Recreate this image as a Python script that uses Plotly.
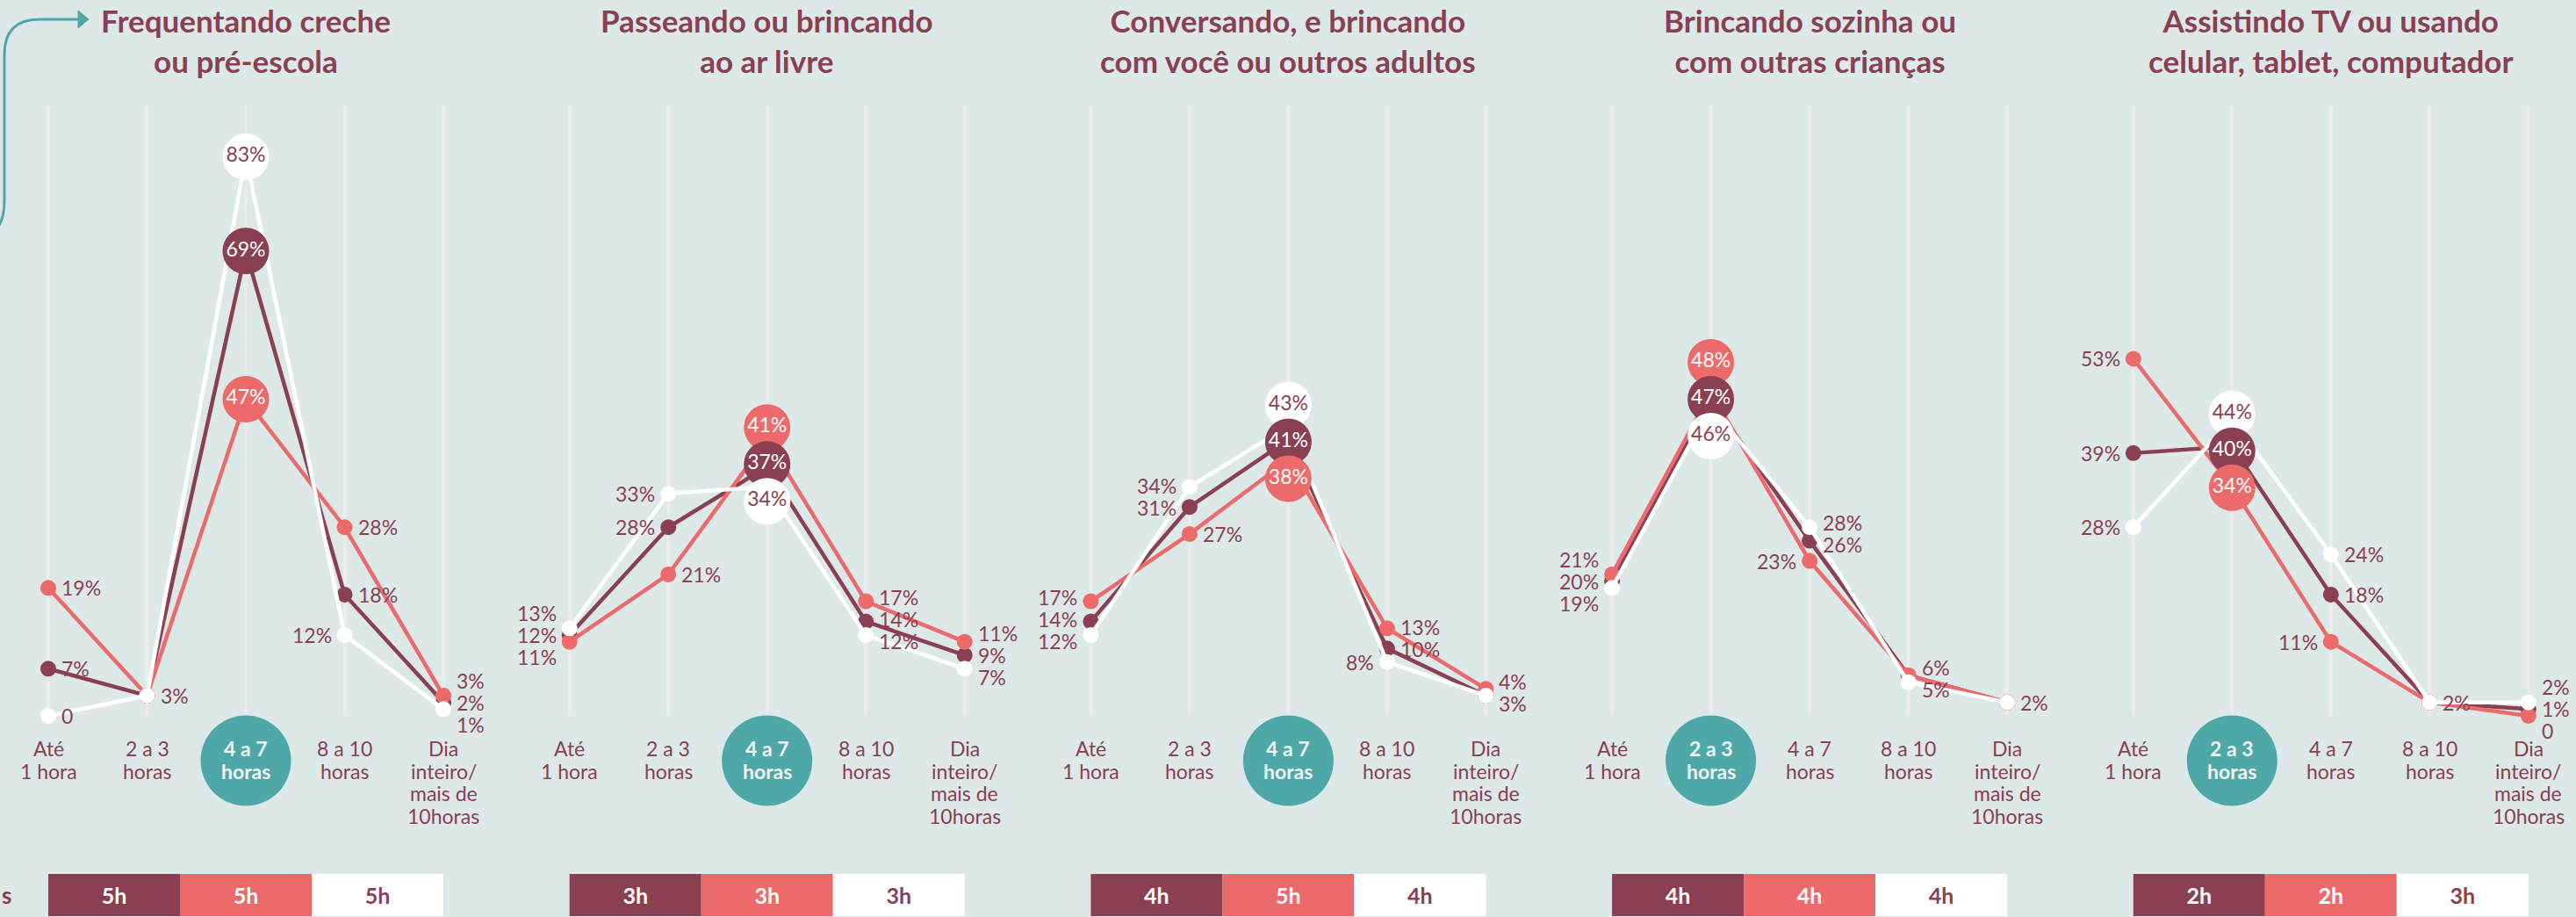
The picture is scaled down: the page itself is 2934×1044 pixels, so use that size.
import plotly.graph_objects as go

# ---------------- data ----------------
categories = ["Até<br>1 hora", "2 a 3<br>horas", "4 a 7<br>horas", "8 a 10<br>horas",
              "Dia<br>inteiro/<br>mais de<br>10horas"]
titles = ["Frequentando creche<br>ou pré-escola",
          "Passeando ou brincando<br>ao ar livre",
          "Conversando, e brincando<br>com você ou outros adultos",
          "Brincando sozinha ou<br>com outras crianças",
          "Assistindo TV ou usando<br>celular, tablet, computador"]

maroon_vals = [[7, 3, 69, 18, 2], [12, 28, 37, 14, 9], [14, 31, 41, 10, 3], [20, 47, 26, 6, 2], [39, 40, 18, 2, 1]]
coral_vals = [[19, 3, 47, 28, 3], [11, 21, 41, 17, 11], [17, 27, 38, 13, 4], [21, 48, 23, 6, 2], [53, 34, 11, 2, 0]]
white_vals = [[0, 3, 83, 12, 1], [13, 33, 34, 12, 7], [12, 34, 43, 8, 3], [19, 46, 28, 5, 2], [28, 44, 24, 2, 2]]

maroon_avg = ["5h", "3h", "4h", "4h", "2h"]
coral_avg = ["5h", "3h", "5h", "4h", "2h"]
white_avg = ["5h", "3h", "4h", "4h", "3h"]

# ---------------- styles / layout config ----------------
W, H = 2934, 1044
BG = "#dce9e8"
MAROON = "#8a3f53"
CORAL = "#ec6a6a"
WHITE = "#ffffff"
TEAL = "#4fa8a8"
GRID = "#ebebeb"
FONT = "Lato"

label_sides = {
    "maroon": ["RRCRR", "LLCRR", "LLCRR", "LCRRR", "LCRRR"],
    "coral": ["RRCRR", "LRCRR", "LRCRR", "LCLRR", "LCLRR"],
    "white": ["RRCLR", "LLCRR", "LLCLR", "LCRRR", "LCRRR"],
}

Y0 = 815.0        # pixel of value 0
PXU = 7.67        # pixels per percentage point
X0 = 55.0         # pixel of first category of first panel
PANEL_STEP = 593.7
CAT_STEP = 112.5
PANEL_W = 558.0
CAT_TOP = 852.0   # pixel centre of the first line of category labels
CAT_LINE = 25.5   # pixel spacing of category label lines


def pv(px):
    """pixel row -> y value"""
    return (Y0 - px) / PXU


def repel(items, min_gap):
    items = sorted(items, key=lambda t: t[1])
    pos = [t[1] for t in items]
    for _ in range(200):
        moved = False
        for i in range(len(pos) - 1):
            gap = pos[i + 1] - pos[i]
            if gap < min_gap - 1e-6:
                d = (min_gap - gap) / 2
                pos[i] -= d
                pos[i + 1] += d
                moved = True
        if not moved:
            break
    return {items[i][0]: pos[i] for i in range(len(items))}


series = [
    ("maroon", MAROON, maroon_vals, maroon_avg, WHITE),
    ("coral", CORAL, coral_vals, coral_avg, WHITE),
    ("white", WHITE, white_vals, white_avg, MAROON),
]

fig = go.Figure()
annotations = []
shapes = []
layout_axes = {}

layout_axes["yaxis"] = dict(domain=[0, 1], range=[pv(H), pv(0)], visible=False, fixedrange=True)

for p in range(5):
    xname = "x" if p == 0 else f"x{p+1}"
    axkey = "xaxis" if p == 0 else f"xaxis{p+1}"
    left_px = PANEL_STEP * p
    right_px = min(left_px + PANEL_W, W)
    first_cat_px = X0 + PANEL_STEP * p
    xr = [(left_px - first_cat_px) / CAT_STEP, (right_px - first_cat_px) / CAT_STEP]
    layout_axes[axkey] = dict(domain=[left_px / W, right_px / W], range=xr, visible=False,
                              anchor="y", fixedrange=True)

    mvals = maroon_vals[p]
    hi = mvals.index(max(mvals))
    xs = list(range(len(categories)))

    # gridlines
    for k in xs:
        shapes.append(dict(type="line", xref=xname, yref="y", x0=k, x1=k, y0=0, y1=pv(120),
                           line=dict(color=GRID, width=4), layer="below"))

    # teal highlight circle
    fig.add_trace(go.Scatter(x=[hi], y=[pv(866)], mode="markers", xaxis=xname, yaxis="y",
                             marker=dict(size=103, color=TEAL, opacity=1, line=dict(width=0)),
                             hoverinfo="skip", showlegend=False))

    # category labels (one annotation per line for tight spacing)
    for k, c in enumerate(categories):
        for li, line in enumerate(c.split("<br>")):
            if k == hi:
                txt = f"<b>{line}</b>"
                col = "#eef5f5"
            else:
                txt = line
                col = MAROON
            annotations.append(dict(x=k, y=pv(CAT_TOP + li * CAT_LINE), xref=xname, yref="y", text=txt,
                                    showarrow=False, xanchor="center", yanchor="middle",
                                    font=dict(family=FONT, size=23, color=col)))

    # title
    annotations.append(dict(x=2, y=pv(46), xref=xname, yref="y", text=f"<b>{titles[p]}</b>",
                            showarrow=False, xanchor="center", yanchor="middle", align="center",
                            font=dict(family=FONT, size=35, color=MAROON)))

    # lines with small markers
    for name, col, vals, avg, tcol in series:
        v = vals[p]
        sizes = [0 if k == hi else 18 for k in xs]
        fig.add_trace(go.Scatter(x=xs, y=v, mode="lines+markers", xaxis=xname, yaxis="y",
                                 line=dict(color=col, width=4.5),
                                 marker=dict(size=sizes, color=col, opacity=1, line=dict(width=0)),
                                 hoverinfo="skip", showlegend=False))

    # small labels (repelled per side per category)
    for k in xs:
        if k == hi:
            continue
        for side in ("L", "R"):
            items = []
            seen = set()
            for name, col, vals, avg, tcol in series:
                if label_sides[name][p][k] != side:
                    continue
                val = vals[p][k]
                if val in seen:
                    continue
                seen.add(val)
                items.append([val, float(val)])
            if not items:
                continue
            ypos = repel(items, 25 / PXU)
            for val, yv in ypos.items():
                txt = f"{val}%" if val != 0 else "0"
                dx = 13 / CAT_STEP
                annotations.append(dict(
                    x=k + dx if side == "R" else k - dx, y=yv, xref=xname, yref="y",
                    text=txt, showarrow=False,
                    xanchor="left" if side == "R" else "right", yanchor="middle",
                    font=dict(family=FONT, size=23, color=MAROON)))

    # big circles at highlighted category
    items = [[name, float(vals[p][hi])] for name, col, vals, avg, tcol in series]
    bigpos = repel(items, 42 / PXU)
    order = sorted(series, key=lambda s: -s[2][p][hi])
    for name, col, vals, avg, tcol in order:
        val = vals[p][hi]
        fig.add_trace(go.Scatter(x=[hi], y=[bigpos[name]], mode="markers+text", xaxis=xname, yaxis="y",
                                 marker=dict(size=53, color=col, opacity=1, line=dict(width=0)),
                                 text=[f"{val}%"], textposition="middle center",
                                 textfont=dict(family=FONT, size=23, color=tcol),
                                 hoverinfo="skip", showlegend=False))

    # average bars
    seg = (len(categories) - 1) / 3
    for i, (name, col, vals, avg, tcol) in enumerate(series):
        fig.add_trace(go.Bar(orientation="h", x=[seg], base=[i * seg], y=[pv(1019)], width=48 / PXU,
                             xaxis=xname, yaxis="y", marker=dict(color=col, line=dict(width=0)),
                             text=[f"<b>{avg[p]}</b>"], textposition="inside", insidetextanchor="middle",
                             textfont=dict(family=FONT, size=25, color=tcol),
                             hoverinfo="skip", showlegend=False))


# teal arrow at the top left
def P(x, y):
    return f"{x / W:.6f},{1 - y / H:.6f}"


shapes.append(dict(type="path", xref="paper", yref="paper",
                   path=f"M {P(-2, 258)} Q {P(5, 248)} {P(5, 228)} L {P(5, 62)} Q {P(5, 22)} {P(45, 22)} L {P(92, 22)}",
                   line=dict(color=TEAL, width=3)))
shapes.append(dict(type="path", xref="paper", yref="paper",
                   path=f"M {P(89, 12)} L {P(101, 22)} L {P(89, 32)} Z",
                   fillcolor=TEAL, line=dict(color=TEAL, width=1)))

annotations.append(dict(x=0, y=1 - 1019 / H, xref="paper", yref="paper", text="<b>s</b>",
                        showarrow=False, xanchor="left", yanchor="middle",
                        font=dict(family=FONT, size=26, color=MAROON)))

fig.update_layout(
    width=W, height=H, margin=dict(l=0, r=0, t=0, b=0),
    paper_bgcolor=BG, plot_bgcolor=BG,
    barmode="overlay", showlegend=False,
    annotations=annotations, shapes=shapes,
    **layout_axes,
)

fig.write_html(
    "out.html",
    config={"displayModeBar": False},
    post_script="document.body.style.margin='0';document.body.style.background='%s';"
                "document.documentElement.style.overflow='hidden';" % BG,
)
